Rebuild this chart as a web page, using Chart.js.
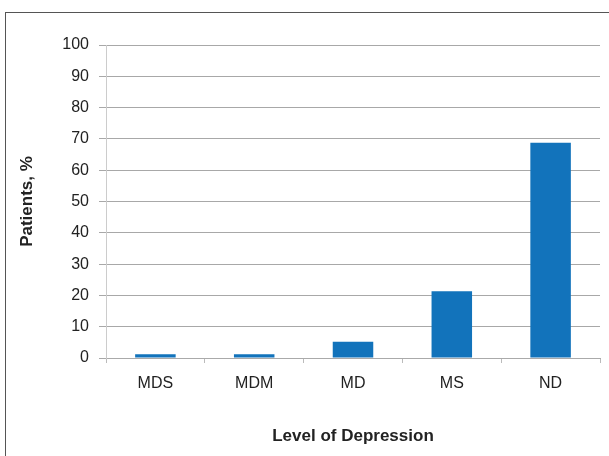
<!DOCTYPE html>
<html lang="en">
<head>
  <meta charset="UTF-8" />
  <title>Level of Depression</title>
  <script src="https://cdn.jsdelivr.net/npm/chart.js"></script>
  <style>
    html, body {
      margin: 0;
      padding: 0;
      background: #fff;
      overflow: hidden;
    }
    .frame {
      position: absolute;
      left: 5px;
      top: 12px;
      width: 620px;
      height: 470px;
      border: 1px solid #555;
    }
    .chart-box {
      position: absolute;
      left: 0;
      top: 0;
      width: 609px;
      height: 456px;
    }
  </style>
</head>
<body>
  <div class="frame"></div>
  <div class="chart-box">
    <canvas id="depressionChart" width="609" height="456"></canvas>
  </div>

  <script>
    const categories = ['MDS', 'MDM', 'MD', 'MS', 'ND'];
    const patientsPct = [1.2, 1.2, 5.2, 21.3, 68.8];
    const yTicks = [0, 10, 20, 30, 40, 50, 60, 70, 80, 90, 100];

    const fontFamily = '"Liberation Sans", Arial, Helvetica, sans-serif';

    const ctx = document.getElementById('depressionChart').getContext('2d');
    new Chart(ctx, {
      type: 'bar',
      data: {
        labels: categories,
        datasets: [{
          label: 'Patients, %',
          data: patientsPct,
          backgroundColor: '#1273bb',
          borderWidth: 0,
          barPercentage: 0.82,
          categoryPercentage: 0.5
        }]
      },
      options: {
        responsive: false,
        animation: false,
        layout: {
          padding: { top: 45, right: 9, left: 0, bottom: 0 }
        },
        plugins: {
          legend: { display: false },
          tooltip: { enabled: false }
        },
        scales: {
          x: {
            grid: {
              offset: true,
              drawOnChartArea: false,
              color: '#bbb',
              tickLength: 5
            },
            border: { color: '#aaa' },
            ticks: {
              color: '#222',
              padding: 11,
              font: { family: fontFamily, size: 16 }
            },
            title: {
              display: true,
              text: 'Level of Depression',
              color: '#222',
              padding: { top: 30, bottom: 9 },
              font: { family: fontFamily, size: 17, weight: 'bold' }
            },
            afterFit: function (scale) { scale.height = 98; }
          },
          y: {
            min: 0,
            max: 100,
            afterBuildTicks: function (scale) {
              scale.ticks = yTicks.map(v => ({ value: v }));
            },
            grid: {
              color: '#a8a8a8',
              tickLength: 7
            },
            border: { color: '#ccc' },
            ticks: {
              color: '#222',
              padding: 10,
              font: { family: fontFamily, size: 16 }
            },
            title: {
              display: true,
              text: 'Patients, %',
              color: '#222',
              padding: { top: 17, bottom: 0 },
              font: { family: fontFamily, size: 17, weight: 'bold' }
            },
            afterFit: function (scale) { scale.width = 106; }
          }
        }
      }
    });
  </script>
</body>
</html>
